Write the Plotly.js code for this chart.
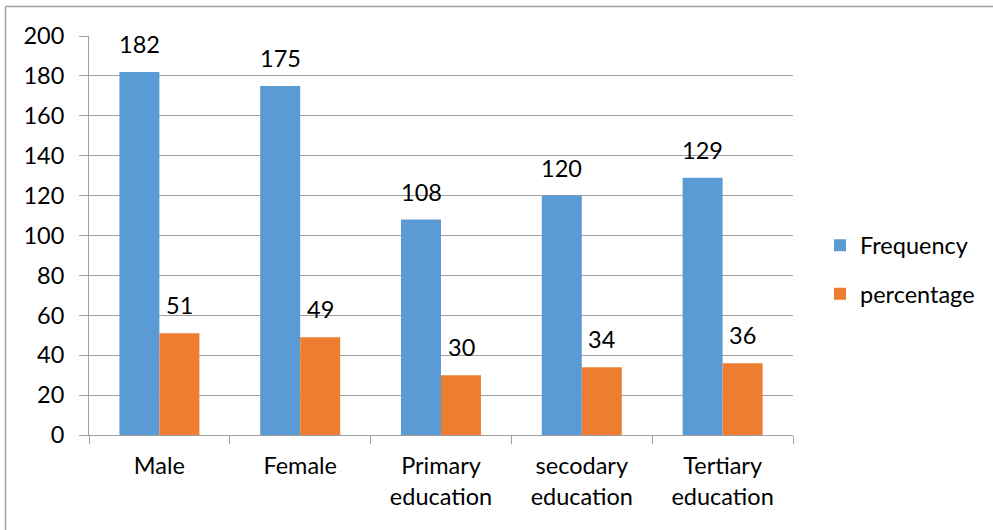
<!DOCTYPE html>
<html>
<head>
<meta charset="utf-8">
<script src="https://cdn.plot.ly/plotly-3.0.1.min.js"></script>
<style>html,body{margin:0;padding:0;background:#fff;}#chart{width:993px;height:530px;}</style>
</head>
<body>
<div id="chart"></div>
<script>
const categories = ["Male", "Female", "Primary<br>education", "secodary<br>education", "Tertiary<br>education"];
const frequency = [182, 175, 108, 120, 129];
const percentage = [51, 49, 30, 34, 36];
const seriesNames = ["Frequency", "percentage"];
const yTicks = [0, 20, 40, 60, 80, 100, 120, 140, 160, 180, 200];

const FONT = "Lato, 'Liberation Sans', sans-serif";
const FS = 23.5;
const GRID = "#a0a0a0";
const BLUE = "#5B9BD5";
const ORANGE = "#ED7D31";

const L = 89, R = 793, T = 36, B = 435, W = 993, H = 530;
const pw = R - L, ph = B - T;
const px = v => (v - L) / pw;
const py = v => (B - v) / ph;

const traces = [
  {type: "bar", name: seriesNames[0], x: categories, y: frequency, marker: {color: BLUE}, legendgroup: "a", hoverinfo: "none"},
  {type: "bar", name: seriesNames[1], x: categories, y: percentage, marker: {color: ORANGE}, legendgroup: "b", hoverinfo: "none"}
];

const annotations = [];
[frequency, percentage].forEach((arr, si) => {
  arr.forEach((v, i) => {
    annotations.push({
      x: categories[i], y: v, xref: "x", yref: "y",
      text: String(v), showarrow: false,
      xanchor: "center", yanchor: "bottom",
      xshift: si === 0 ? -20 : 20, yshift: 12,
      font: {family: FONT, size: FS, color: "#000"}
    });
  });
});

const layout = {
  width: W, height: H,
  margin: {l: L, r: W - R, t: T, b: H - B, pad: 0},
  paper_bgcolor: "#fff", plot_bgcolor: "#fff",
  barmode: "group", bargap: 0.432, bargroupgap: 0,
  font: {family: FONT, size: FS, color: "#000"},
  xaxis: {
    type: "category", showgrid: false, showline: true, linecolor: GRID, linewidth: 1,
    ticks: "outside", tickson: "boundaries", ticklen: 8, tickcolor: GRID,
    ticklabelstandoff: 10,
    tickfont: {family: FONT, size: FS, color: "#000"}, fixedrange: true
  },
  yaxis: {
    range: [0, 200], tickvals: yTicks, ticktext: yTicks.map(String),
    showgrid: true, gridcolor: GRID, gridwidth: 1,
    showline: true, linecolor: GRID, linewidth: 1, zeroline: false,
    ticks: "outside", ticklen: 9, tickcolor: GRID,
    ticklabelstandoff: 10,
    tickfont: {family: FONT, size: FS, color: "#000"}, fixedrange: true
  },
  legend: {
    x: px(820), xanchor: "left", y: py(270), yanchor: "middle",
    font: {family: FONT, size: FS, color: "#000"},
    traceorder: "grouped", tracegroupgap: 15, bgcolor: "rgba(0,0,0,0)"
  },
  annotations: annotations,
  shapes: [
    {type: "line", xref: "paper", yref: "paper", x0: px(5.5), x1: px(1000), y0: py(6.5), y1: py(6.5), line: {color: "#a0a0a0", width: 1.5}},
    {type: "line", xref: "paper", yref: "paper", x0: px(5.5), x1: px(5.5), y0: py(6.5), y1: py(540), line: {color: "#a0a0a0", width: 1.5}}
  ]
};

Plotly.newPlot("chart", traces, layout, {displayModeBar: false, staticPlot: true});
</script>
</body>
</html>
